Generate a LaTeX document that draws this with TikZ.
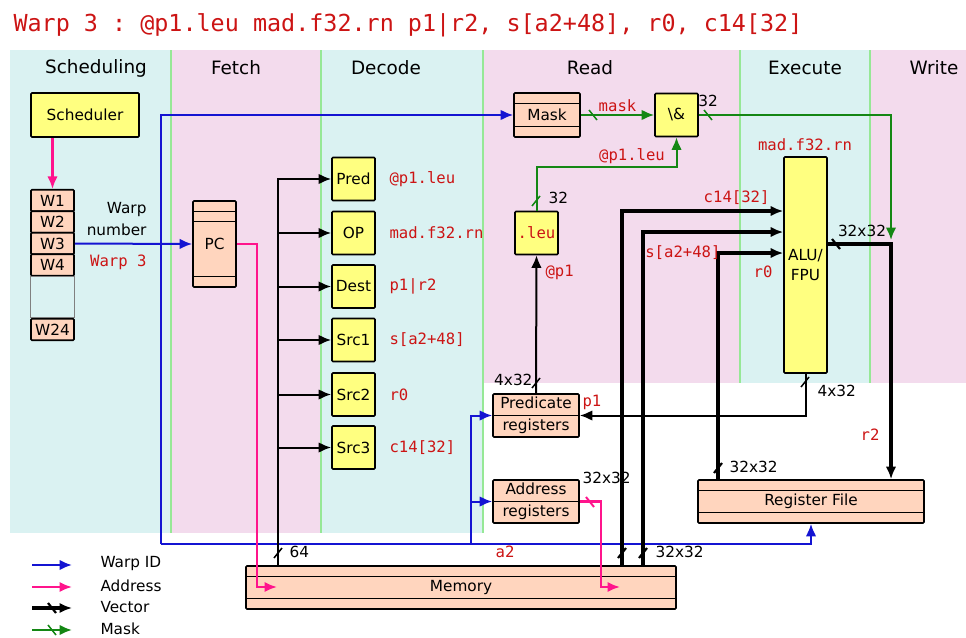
\documentclass[tikz,border=0pt]{standalone}
\usepackage{fontspec}
\setmainfont{DejaVu Sans}
\setmonofont{DejaVu Sans Mono}
\usetikzlibrary{arrows.meta}
\definecolor{cyanbg}{RGB}{218,242,242}
\definecolor{pinkbg}{RGB}{243,219,237}
\definecolor{sepgreen}{RGB}{150,232,150}
\definecolor{yellowbox}{RGB}{255,255,128}
\definecolor{peach}{RGB}{255,213,190}
\definecolor{codered}{RGB}{204,20,20}
\definecolor{warpblue}{RGB}{20,20,210}
\definecolor{addrpink}{RGB}{255,20,140}
\definecolor{maskgreen}{RGB}{20,135,20}
\newcommand{\slashh}[2][black]{\draw[line width=1.5pt,#1] #2 ++(-4,-5) -- ++(8,10);}
\newcommand{\slashv}[2][black]{\draw[line width=1.5pt,#1] #2 ++(-4,5) -- ++(8,-10);}
\begin{document}
\begin{tikzpicture}[x=1pt,y=-1pt,font=\fontsize{15.3}{19}\selectfont,>={Latex[length=12.5pt,width=10.5pt]}]
% Styles
 \tikzstyle{stage}=[font=\fontsize{18.4}{22}\selectfont]
 \tikzstyle{unit}=[rectangle,draw,line width=1.6pt,rounded corners=1pt,fill=yellowbox,inner sep=0pt,minimum width=43pt,minimum height=43pt]
 \tikzstyle{cell}=[rectangle,draw,line width=1.6pt,rounded corners=1pt,fill=peach,inner sep=0pt]
 \tikzstyle{reg}=[cell,path picture={\draw[line width=0.9pt]
      ([yshift=-10.5pt]path picture bounding box.north west) -- ([yshift=-10.5pt]path picture bounding box.north east)
      ([yshift=10.5pt]path picture bounding box.south west) -- ([yshift=10.5pt]path picture bounding box.south east);}]
 \tikzstyle{lbl}=[text=codered,font=\ttfamily\fontsize{15.6}{19}\selectfont]
 \tikzstyle{warpid}=[->,warpblue,line width=2pt]
 \tikzstyle{addr}=[->,addrpink,line width=2.4pt]
 \tikzstyle{vec}=[->,line width=3.2pt]
 \tikzstyle{bus}=[->,line width=2pt]
 \tikzstyle{maskline}=[->,maskgreen,line width=2pt]
 \useasboundingbox (0,0) rectangle (966,637);
% Stages
 \fill[cyanbg] (10,50) rectangle (171,533);
 \fill[pinkbg] (171,50) rectangle (321,533);
 \fill[cyanbg] (321,50) rectangle (483,533);
 \fill[pinkbg] (483,50) rectangle (740,383);
 \fill[cyanbg] (740,50) rectangle (870,383);
 \fill[pinkbg] (870,50) rectangle (966,383);
 \draw[sepgreen,line width=2pt] (171,50) -- (171,533) (321,50) -- (321,533)
      (483,50) -- (483,533) (740,50) -- (740,383) (870,50) -- (870,383);
 \node[stage] (hsched) at (96,68) {Scheduling};
 \node[stage] (hfetch) at (236,68) {Fetch};
 \node[stage] (hdecode) at (386,68) {Decode};
 \node[stage] (hread) at (590,68) {Read};
 \node[stage] (hexec) at (805,68) {Execute};
 \node[stage] (hwrite) at (934,68) {Write};
% Title
 \node[lbl,font=\ttfamily\fontsize{23.4}{28}\selectfont,anchor=base west] (title) at (10,31)
      {Warp 3 : @p1.leu mad.f32.rn p1|r2, s[a2+48], r0, c14[32]};
% Scheduling
 \node[unit,minimum width=108pt,minimum height=44pt] (sched) at (85,115) {Scheduler};
 \node[cell,minimum width=43pt,minimum height=21.5pt] (w1) at (52.5,200.5) {W1};
 \node[cell,minimum width=43pt,minimum height=21.5pt] (w2) at (52.5,222) {W2};
 \node[cell,minimum width=43pt,minimum height=21.5pt] (w3) at (52.5,243.5) {W3};
 \node[cell,minimum width=43pt,minimum height=21.5pt] (w4) at (52.5,265) {W4};
 \node[cell,minimum width=43pt,minimum height=21.5pt] (w24) at (52.5,329.5) {W24};
 \draw[gray,line width=1pt] (w4.south west) rectangle (w24.north east);
 \node[align=right,anchor=east,font=\fontsize{15.3}{22}\selectfont] (wnum) at (150,219) {Warp\\number};
 \node[lbl,anchor=east] (w3lbl) at (150,262) {Warp 3};
% Fetch
 \node[cell,minimum width=43pt,minimum height=86pt] (pc) at (214.5,244) {PC};
 \draw[line width=0.9pt] ([yshift=-11pt]pc.north west) -- ([yshift=-11pt]pc.north east)
      ([yshift=-21pt]pc.north west) -- ([yshift=-21pt]pc.north east)
      ([yshift=11pt]pc.south west) -- ([yshift=11pt]pc.south east);
% Decode
 \node[unit] (pred) at (353.5,179) {Pred};
 \node[unit] (op) at (353.5,233) {OP};
 \node[unit] (dest) at (353.5,286.5) {Dest};
 \node[unit] (src1) at (353.5,340) {Src1};
 \node[unit] (src2) at (353.5,394.5) {Src2};
 \node[unit] (src3) at (353.5,447.5) {Src3};
 \node[lbl,anchor=west] at (386,179) {@p1.leu};
 \node[lbl,anchor=west] at (386,233) {mad.f32.rn};
 \node[lbl,anchor=west] at (386,286.5) {p1|r2};
 \node[lbl,anchor=west] at (386,340) {s[a2+48]};
 \node[lbl,anchor=west] at (386,394.5) {r0};
 \node[lbl,anchor=west] at (386,447.5) {c14[32]};
% Read
 \node[reg,minimum width=66pt,minimum height=44pt] (mask) at (547,115) {Mask};
 \node[unit] (andgate) at (676.5,115) {\textbackslash\&};
 \node[unit,text=codered,font=\ttfamily\fontsize{15.6}{19}\selectfont] (leu) at (536.5,233) {.leu};
 \node[cell,minimum width=86pt,minimum height=43pt,align=center,font=\fontsize{15.3}{22}\selectfont] (predreg) at (536,415.5) {Predicate\\registers};
 \draw[line width=0.9pt] (predreg.west) -- (predreg.east);
 \node[cell,minimum width=86pt,minimum height=43pt,align=center,font=\fontsize{15.3}{22}\selectfont] (addrreg) at (536,501.5) {Address\\registers};
 \draw[line width=0.9pt] (addrreg.west) -- (addrreg.east);
% Execute
 \node[unit,minimum width=43pt,minimum height=216pt,align=center,font=\fontsize{15.3}{20}\selectfont] (alu) at (805.5,265) {ALU/\\FPU};
 \node[lbl] at (805,145) {mad.f32.rn};
% Write
 \node[reg,minimum width=226pt,minimum height=43pt] (rf) at (811,501.5) {Register File};
 \node[reg,minimum width=430pt,minimum height=43pt] (mem) at (461,587.5) {Memory};
% Warp ID
 \draw[warpid] (w3.east) -- (pc.west);
 \coordinate (wbot) at (161,544);
 \coordinate (wfork) at (471,544);
 \draw[warpid] (wbot) |- (mask.west);
 \draw[warpid] (wbot) -| (rf.south);
 \draw[warpid] (wfork) |- (predreg.west);
 \draw[warpid] (wfork) |- (addrreg.west);
% Address
 \draw[addr] (sched.south -| w1.north) -- (w1.north);
 \coordinate (memin) at (277,587);
 \draw[addr] (pc.east) -| ([xshift=-20pt]memin) -- (memin);
 \coordinate (memin2) at (620,587);
 \draw[addr] (addrreg.east) -| ([xshift=-19pt]memin2) -- (memin2);
 \slashh[addrpink,line width=2pt]{(590,502)}
 \node[anchor=west] at (579,478) {32x32};
% Mask
 \draw[maskline] (mask.east) -- (andgate.west)
      node[lbl,midway,above=-1pt] {mask};
 \slashh[maskgreen]{(593,115)}
 \coordinate (wbin) at (891,240);
 \draw[maskline] (andgate.east) -| (wbin);
 \slashh[maskgreen]{(708,115)}
 \node at (708,101) {32};
 \draw[maskline] (leu.north) -- ++(0,-44) -| (andgate.south);
 \node[lbl] at (632,156) {@p1.leu};
 \slashv[maskgreen]{(536,201)}
 \node[anchor=west] at (545,198) {32};
% Vectors
 \draw[bus] (mem.north -| 278,0) -- (278,179) -- (pred.west);
 \draw[bus] (op.west -| 278,0) -- (op.west);
 \draw[bus] (dest.west -| 278,0) -- (dest.west);
 \draw[bus] (src1.west -| 278,0) -- (src1.west);
 \draw[bus] (src2.west -| 278,0) -- (src2.west);
 \draw[bus] (src3.west -| 278,0) -- (src3.west);
 \slashv{(278,553)}
 \node[anchor=west] at (286,552) {64};
 \draw[bus] (predreg.north) -- (leu.south);
 \slashv{(536,383)}
 \node[anchor=east] at (536,380) {4x32};
 \node[lbl,anchor=west] at (542,272) {@p1};
 \node[lbl,anchor=west] at (579,402) {p1};
 \draw[vec] (mem.north -| 622,0) |- ([yshift=54pt]alu.west);
 \draw[vec] (mem.north -| 643,0) |- ([yshift=33pt]alu.west);
 \draw[vec] (rf.north -| 718,0) |- ([yshift=12pt]alu.west);
 \slashv[line width=2.2pt]{(622,553)}
 \slashv[line width=2.2pt]{(643,553)}
 \node[anchor=west] at (652,552) {32x32};
 \slashv[line width=2.2pt]{(718,468)}
 \node[anchor=west] at (726,467) {32x32};
 \node[lbl,anchor=east] at (773,198) {c14[32]};
 \node[lbl,anchor=east] at (724,253) {s[a2+48]};
 \node[lbl] at (763,272) {r0};
 \node[lbl] at (505,552) {a2};
 \draw[vec] ([yshift=21pt]alu.east) -| (rf.north -| wbin);
 \slashh[line width=2.2pt]{(836,244)}
 \node at (862,231) {32x32};
 \node[lbl] at (870,435) {r2};
 \draw[bus] (alu.south) |- (predreg.east);
 \slashv{(805,382)}
 \node[anchor=west] at (814,391) {4x32};
% Legend
 \node[anchor=west] (lgwarp) at (97,564) {Warp ID};
 \node[anchor=west] (lgaddr) at (97,586) {Address};
 \node[anchor=west] (lgvec) at (97,607) {Vector};
 \node[anchor=west] (lgmask) at (97,629) {Mask};
 \draw[warpid] ([xshift=-65pt,yshift=-1pt]lgwarp.west) -- ([xshift=-25pt,yshift=-1pt]lgwarp.west);
 \draw[addr] ([xshift=-65pt,yshift=-1pt]lgaddr.west) -- ([xshift=-25pt,yshift=-1pt]lgaddr.west);
 \draw[vec] ([xshift=-65pt,yshift=-1pt]lgvec.west) -- ([xshift=-25pt,yshift=-1pt]lgvec.west);
 \slashh[line width=2.2pt]{(52,608)}
 \draw[maskline] ([xshift=-65pt,yshift=-1pt]lgmask.west) -- ([xshift=-25pt,yshift=-1pt]lgmask.west);
 \slashh[maskgreen]{(52,630)}
\end{tikzpicture}
\end{document}
